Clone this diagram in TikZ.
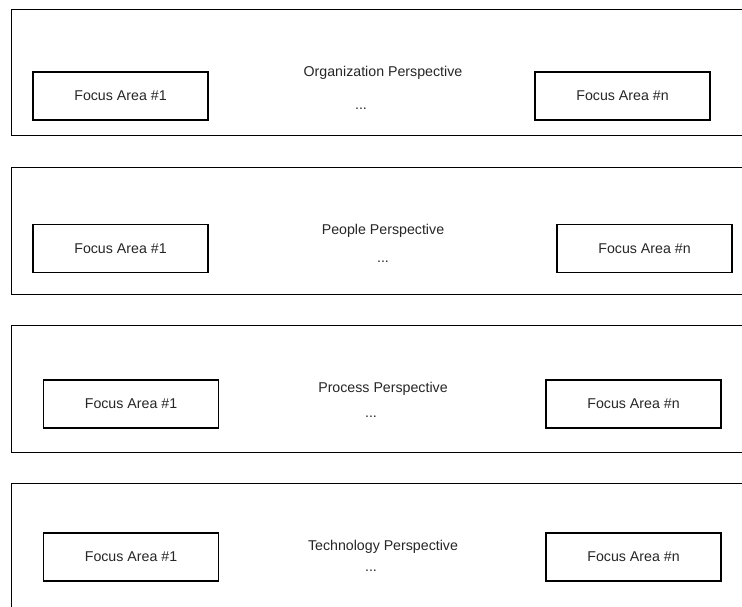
\documentclass[tikz,border=0pt]{standalone}
\usepackage{fontspec}
\setmainfont{Liberation Sans}
\begin{document}
\begin{tikzpicture}[x=1pt,y=-1pt,
  panel/.style={draw=black,line width=1.4pt,rectangle,inner sep=0pt,anchor=north west},
  focusbox/.style={draw=black,line width=1.4pt,rectangle,inner sep=0pt,
    minimum width=175pt,minimum height=48pt,font=\fontsize{14.2}{16}\selectfont,text=black!85},
  heading/.style={font=\fontsize{14.2}{16}\selectfont,text=black!85,inner sep=0pt,anchor=base},
  dots/.style={font=\fontsize{14.2}{16}\selectfont,text=black!85,inner sep=0pt,anchor=base}]
\useasboundingbox (0,0) rectangle (742,606);
\clip (0,0) rectangle (742,606);
\fill[white] (0,0) rectangle (742,606);

% perspective panels (running off the right and bottom edges)
\node[panel,minimum width=760pt,minimum height=126pt] (p1) at (11,9) {};
\node[panel,minimum width=760pt,minimum height=127pt] (p2) at (11,167) {};
\node[panel,minimum width=760pt,minimum height=127pt] (p3) at (11,325) {};
\node[panel,minimum width=760pt,minimum height=140pt] (p4) at (11,483) {};

% Organization
\node[heading] (h1) at (383,76) {Organization Perspective};
\node[dots] (d1) at (361,109) {...};
\node[focusbox] (a1) at (120.5,96) {Focus Area \#1};
\node[focusbox] (b1) at (622.5,96) {Focus Area \#n};

% People
\node[heading] (h2) at (383,234) {People Perspective};
\node[dots] (d2) at (383,262) {...};
\node[focusbox] (a2) at (120.5,248.5) {Focus Area \#1};
\node[focusbox] (b2) at (644.5,248.5) {Focus Area \#n};

% Process
\node[heading] (h3) at (383,392) {Process Perspective};
\node[dots] (d3) at (371,417) {...};
\node[focusbox] (a3) at (131,404) {Focus Area \#1};
\node[focusbox] (b3) at (633.5,404) {Focus Area \#n};

% Technology
\node[heading] (h4) at (383,550) {Technology Perspective};
\node[dots] (d4) at (371,571) {...};
\node[focusbox] (a4) at (131,557) {Focus Area \#1};
\node[focusbox] (b4) at (633.5,557) {Focus Area \#n};
\end{tikzpicture}
\end{document}
